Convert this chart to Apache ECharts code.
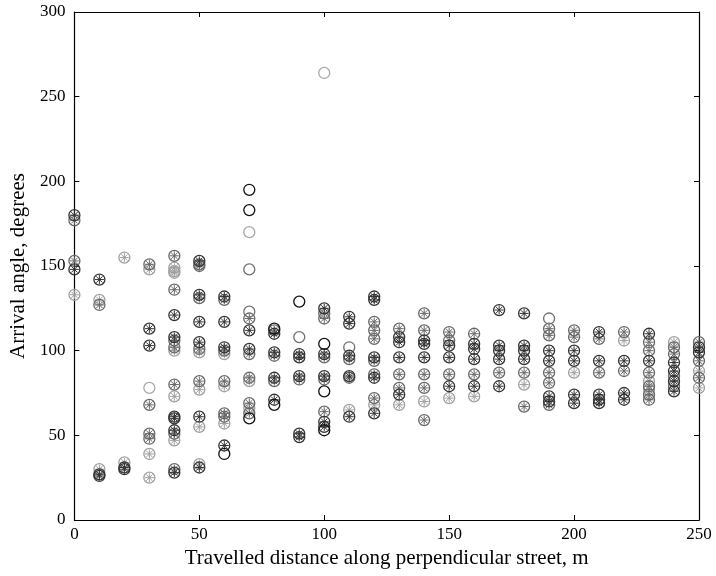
<!DOCTYPE html>
<html lang="en">
  <head>
    <meta charset="utf-8" />
    <title>Arrival angle</title>
    <style>
      html,
      body,
      #container {
        margin: 0;
        height: 100%;
        width: 100%;
        background: #fff;
      }
    </style>
  </head>

  <body>
    <div id="container"></div>
    <script src="https://cdn.jsdelivr.net/npm/echarts@6/dist/echarts.min.js"></script>
    <script>
      // tick labels
      const xTicks = [0, 50, 100, 150, 200, 250]
      const yTicks = [0, 50, 100, 150, 200, 250, 300]

      // circle + asterisk markers, by gray shade: [distance, angle]
      const darkPts = [
        [0,180],[0,148],[10,142],[10,27],[10,26],[20,31],[20,30],[30,113],[30,103],
        [40,121],[40,108],[40,61],[40,60],[40,53],[40,28],
        [50,153],[50,133],[50,117],[50,105],[50,61],[50,31],
        [60,132],[60,117],[60,102],[60,44],[70,112],[70,101],
        [80,110],[80,99],[80,84],[80,71],[90,98],[90,96],[90,85],[90,51],[90,49],
        [100,125],[100,98],[100,85],[100,58],[100,55],
        [110,120],[110,116],[110,97],[110,85],[110,61],
        [120,132],[120,130],[120,96],[120,84],[120,63],
        [130,108],[130,105],[130,96],[130,74],[140,106],[140,104],[140,96],
        [150,103],[150,96],[150,79],[160,104],[160,101],[160,95],[160,79],
        [170,124],[170,103],[170,100],[170,95],[170,79],
        [180,122],[180,103],[180,100],[180,95],[190,100],[190,94],[190,73],[190,70],
        [200,100],[200,94],[200,74],[200,69],[210,111],[210,94],[210,74],[210,71],[210,69],
        [220,94],[220,75],[220,71],[230,110],[230,94],
        [240,93],[240,88],[240,82],[240,76],[250,102],[250,99]
      ]
      const midPts = [
        [0,177],[0,153],[10,127],[30,151],[30,68],[30,51],[30,48],
        [40,156],[40,136],[40,106],[40,102],[40,80],[40,51],[40,30],
        [50,151],[50,150],[50,131],[50,101],[50,82],
        [60,130],[60,100],[60,82],[60,63],[60,61],
        [70,119],[70,98],[70,84],[70,69],[70,63],[80,112],[80,97],[80,82],[90,83],
        [100,122],[100,119],[100,96],[100,83],[100,64],[110,95],[110,84],
        [120,117],[120,112],[120,107],[120,94],[120,86],[120,72],
        [130,113],[130,86],[130,78],[140,122],[140,112],[140,86],[140,78],[140,59],
        [150,111],[150,106],[150,86],[160,110],[160,86],[170,87],[180,87],[180,67],
        [190,113],[190,109],[190,87],[190,81],[190,68],[200,112],[200,108],
        [210,107],[210,87],[220,111],[220,88],
        [230,105],[230,100],[230,87],[230,79],[230,74],[230,71],
        [240,102],[240,98],[240,85],[240,79],[250,105],[250,94],[250,84]
      ]
      const lightPts = [
        [0,133],[10,130],[10,30],[20,155],[20,34],[30,148],[30,39],[30,25],
        [40,149],[40,147],[40,146],[40,100],[40,73],[40,47],
        [50,99],[50,77],[50,55],[50,33],[60,98],[60,79],[60,57],[70,82],[70,66],
        [110,65],[120,68],[130,68],[140,70],[150,72],[160,73],[180,80],[200,87],
        [220,106],[230,82],[230,77],[240,105],[250,88],[250,78]
      ]

      // plain circle markers
      const plainBlack = [[60,39],[70,195],[70,183],[70,60],[80,113],[80,68],[90,129],[100,104],[100,76],[100,53]]
      const plainGray = [[70,148],[70,123],[90,108],[110,102],[190,119]]
      const plainLight = [[30,78],[70,170],[100,264]]

      const starPath = 'path://M5,0L5,10M0,5L10,5M1.5,1.5L8.5,8.5M1.5,8.5L8.5,1.5'
      const font = 'Liberation Serif'

      function ring(data, color) {
        return {
          type: 'scatter',
          data: data,
          symbol: 'circle',
          symbolSize: 11,
          silent: true,
          itemStyle: { color: 'rgba(0,0,0,0)', borderColor: color, borderWidth: 1.3, opacity: 1 },
        }
      }
      function star(data, color) {
        return {
          type: 'scatter',
          data: data,
          symbol: starPath,
          symbolSize: 9,
          silent: true,
          itemStyle: { color: 'rgba(0,0,0,0)', borderColor: color, borderWidth: 1, opacity: 1 },
        }
      }

      function xAxisOf(pos, showLabel) {
        return {
          type: 'value',
          position: pos,
          min: 0,
          max: 250,
          interval: 50,
          axisLine: { show: true, onZero: false, lineStyle: { color: '#000', width: 1.2 } },
          axisTick: { show: true, inside: true, length: 5, lineStyle: { color: '#000' } },
          axisLabel: { show: showLabel, color: '#000', fontFamily: font, fontSize: 17, margin: 6 },
          splitLine: { show: false },
          name: showLabel ? 'Travelled distance along perpendicular street, m' : '',
          nameLocation: 'middle',
          nameGap: 20,
          nameTextStyle: { color: '#000', fontFamily: font, fontSize: 21 },
        }
      }
      function yAxisOf(pos, showLabel) {
        return {
          type: 'value',
          position: pos,
          min: 0,
          max: 300,
          interval: 50,
          axisLine: { show: true, onZero: false, lineStyle: { color: '#000', width: 1.2 } },
          axisTick: { show: true, inside: true, length: 5, lineStyle: { color: '#000' } },
          axisLabel: { show: showLabel, color: '#000', fontFamily: font, fontSize: 17, margin: 9 },
          splitLine: { show: false },
          name: showLabel ? 'Arrival angle, degrees' : '',
          nameLocation: 'middle',
          nameGap: 38,
          nameTextStyle: { color: '#000', fontFamily: font, fontSize: 21 },
        }
      }

      let chart = echarts.init(document.getElementById('container'))
      let option = {
        animation: false,
        backgroundColor: '#fff',
        grid: { left: 70, right: 17, top: 12, bottom: 56 },
        xAxis: [xAxisOf('bottom', true), xAxisOf('top', false)],
        yAxis: [yAxisOf('left', true), yAxisOf('right', false)],
        series: [
          ring(lightPts, '#a0a0a0'),
          star(lightPts, '#a0a0a0'),
          ring(plainLight, '#a8a8a8'),
          ring(midPts, '#686868'),
          star(midPts, '#686868'),
          ring(plainGray, '#707070'),
          ring(darkPts, '#333333'),
          star(darkPts, '#333333'),
          ring(plainBlack, '#111111'),
        ],
      }
      chart.setOption(option)
    </script>
  </body>
</html>
